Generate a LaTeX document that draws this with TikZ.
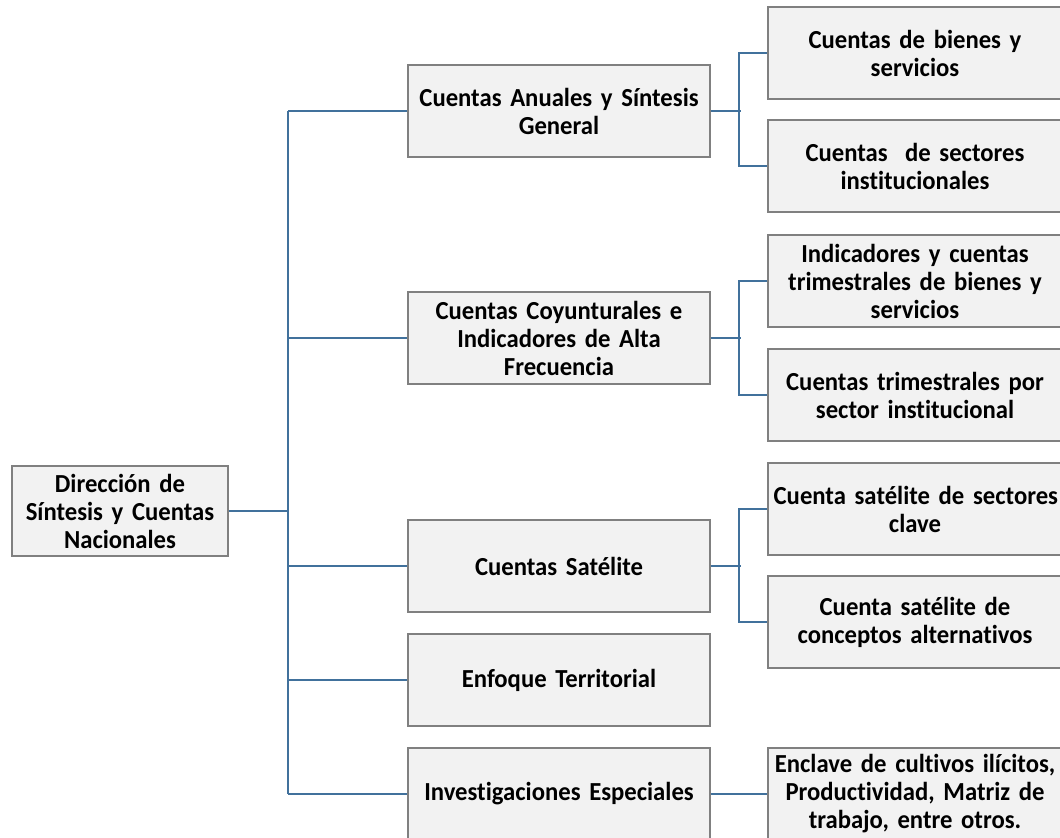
\documentclass[tikz,border=0pt]{standalone}
\usepackage{fontspec}
\setmainfont{Carlito}[FakeStretch=0.95, WordSpace=0.75, Ligatures=NoCommon]
\usepackage{xcolor}
\usepackage{tikz}
\usetikzlibrary{positioning}

\definecolor{linkblue}{RGB}{65,113,156}
\definecolor{boxfill}{RGB}{242,242,242}
\definecolor{boxline}{RGB}{128,128,128}

\begin{document}
\begin{tikzpicture}[
  x=0.75pt, y=-0.75pt,
  box/.style={draw=boxline, line width=0.9pt, fill=boxfill, align=center,
    inner sep=2pt, font=\fontsize{19.5}{21}\selectfont\bfseries},
  root/.style={box, minimum width=162pt, minimum height=67.5pt, text width=150pt},
  area/.style={box, minimum width=226.5pt, minimum height=69pt, text width=216pt},
  unit/.style={box, minimum width=220.5pt, minimum height=69pt, text width=212pt},
  conn/.style={draw=linkblue, line width=1.4pt}
]
\clip (0,0) rectangle (1060,838);
\useasboundingbox (0,0) rectangle (1060,838);

% direction
\node[root] (dir) at (120,511) {Dirección de\\Síntesis y Cuentas\\Nacionales};
\coordinate (trunk) at (288,0);

% areas
\node[area] (anual) at (559,111) {Cuentas Anuales y Síntesis\\General};
\node[area] (coyun) at (559,338) {Cuentas Coyunturales e\\Indicadores de Alta\\Frecuencia};
\node[area] (satel) at (559,566) {Cuentas Satélite};
\node[area] (terri) at (559,680) {Enfoque Territorial};
\node[area] (inves) at (559,794) {Investigaciones Especiales};

% units
\node[unit] (bienes) at (915,53) {Cuentas de bienes y\\servicios};
\node[unit] (sector) at (915,166) {Cuentas~ de sectores\\institucionales};
\node[unit] (tribien) at (915,281) {Indicadores y cuentas\\trimestrales de bienes y\\servicios};
\node[unit] (trisect) at (915,395) {Cuentas trimestrales por\\sector institucional};
\node[unit] (clave) at (915,509) {\mbox{Cuenta satélite de sectores}\\clave};
\node[unit] (altern) at (915,622) {Cuenta satélite de\\conceptos alternativos};
\node[unit] (encl) at (915,794) {Enclave de cultivos ilícitos,\\Productividad, Matriz de\\trabajo, entre otros.};

% connectors
\draw[conn] (dir.east) -- (dir.east -| trunk);
\draw[conn] (anual.west -| trunk) -- (inves.west -| trunk);
\foreach \n in {anual,coyun,satel,terri,inves}
  \draw[conn] (\n.west -| trunk) -- (\n.west);
\foreach \p/\a/\b in {anual/bienes/sector, coyun/tribien/trisect, satel/clave/altern} {
  \draw[conn] (\p.east) -- ++(30,0);
  \draw[conn] (\a.west) -- ++(-28,0) |- (\b.west);
}
\draw[conn] (inves.east) -- (encl.west);
\end{tikzpicture}
\end{document}
